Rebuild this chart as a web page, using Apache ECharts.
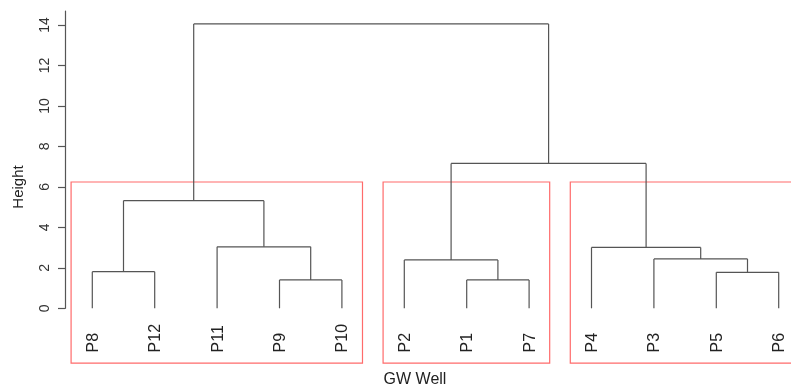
<!DOCTYPE html>
<html>
<head>
<meta charset="utf-8">
<script src="https://cdn.jsdelivr.net/npm/echarts@6/dist/echarts.min.js"></script>
<style>html,body{margin:0;padding:0;background:#fff;}#c{width:791px;height:389px;}</style>
</head>
<body>
<div id="c"></div>
<script>
// Leaf order (left to right)
const leaves = ['P8','P12','P11','P9','P10','P2','P1','P7','P4','P3','P5','P6'];
// Agglomeration steps: children are leaf names or 1-based step numbers
const mergeLeft   = ['P9','P1','P5','P8','P2','P3','P4','P11', 4, 5, 9];
const mergeRight  = ['P10','P7','P6','P12', 2, 3, 6, 1, 8, 7, 10];
const mergeHeight = [1.40, 1.40, 1.78, 1.81, 2.39, 2.44, 3.01, 3.04, 5.32, 7.16, 14.05];
// Three-cluster cut (rect.hclust, k = 3)
const clusterFirst = [1, 6, 9];
const clusterLast  = [5, 8, 12];
const cutHeight = (mergeHeight[9] + mergeHeight[8]) / 2;
const yTicks = [0, 2, 4, 6, 8, 10, 12, 14];

const FONT = 'Liberation Sans, Arial, Helvetica, sans-serif';
const plotBottom = -2.71;   // bottom of the plotting region (data units)
const labelStart = -2.18;   // where leaf labels begin (data units)

// compute node positions
function leafX(name){ return leaves.indexOf(name) + 1; }
const nodeX = [], nodeH = [];
function childPos(c){
  if (typeof c === 'string') return [leafX(c), 0];
  return [nodeX[c-1], nodeH[c-1]];
}
const segs = [];
for (let i = 0; i < mergeHeight.length; i++){
  const L = childPos(mergeLeft[i]), R = childPos(mergeRight[i]);
  const h = mergeHeight[i];
  nodeX[i] = (L[0] + R[0]) / 2; nodeH[i] = h;
  segs.push([L[0], L[1], L[0], h]);
  segs.push([L[0], h, R[0], h]);
  segs.push([R[0], h, R[0], R[1]]);
}
const rects = clusterFirst.map((f, i) => [f - 1 + 0.66, clusterLast[i] + 0.33, cutHeight]);
const leafData = leaves.map((n, i) => [i + 1, n]);

const chart = echarts.init(document.getElementById('c'), null, {renderer: 'canvas'});
chart.setOption({
  animation: false,
  backgroundColor: '#ffffff',
  grid: {left: 65, top: 11, right: 0, height: 297.3, containLabel: false, outerBoundsMode: 'none'},
  xAxis: {type: 'value', min: 0.5625, max: 0.5625 + 726 / 62.4, show: false},
  yAxis: {
    type: 'value', min: 0, max: 14.69,
    axisLine: {show: true, lineStyle: {color: '#555', width: 1.2}},
    axisTick: {show: true, length: 7, lineStyle: {color: '#555', width: 1.2}, customValues: yTicks},
    axisLabel: {show: true, rotate: 90, fontSize: 14, color: '#333', fontFamily: FONT, margin: 13, customValues: yTicks},
    splitLine: {show: false}
  },
  graphic: [
    {type: 'text', x: 18.5, y: 187, rotation: Math.PI/2,
     style: {text: 'Height', fontSize: 15, fontFamily: FONT, fill: '#222', align: 'center', verticalAlign: 'middle'}},
    {type: 'text', x: 415, y: 380,
     style: {text: 'GW Well', fontSize: 16, fontFamily: FONT, fill: '#222', align: 'center', verticalAlign: 'middle'}}
  ],
  series: [
    {
      type: 'custom', clip: false, data: rects, z: 1,
      renderItem: function(params, api){
        const a = api.coord([api.value(0), api.value(2)]);
        const b = api.coord([api.value(1), plotBottom]);
        return {type: 'rect', shape: {x: a[0], y: a[1], width: b[0]-a[0], height: b[1]-a[1]},
                style: {fill: null, stroke: '#ff6b6b', lineWidth: 1.2}};
      }
    },
    {
      type: 'custom', clip: false, data: segs, z: 2,
      renderItem: function(params, api){
        const p = api.coord([api.value(0), api.value(1)]);
        const q = api.coord([api.value(2), api.value(3)]);
        return {type: 'line', shape: {x1: p[0], y1: p[1], x2: q[0], y2: q[1]},
                style: {stroke: '#555', lineWidth: 1.2}};
      }
    },
    {
      type: 'custom', clip: false, data: leafData, z: 3,
      renderItem: function(params, api){
        const p = api.coord([api.value(0), labelStart]);
        return {type: 'text', x: p[0] + 1, y: p[1], rotation: Math.PI/2,
                style: {text: leaves[params.dataIndex], fontSize: 16, fontFamily: FONT, fill: '#222',
                        align: 'left', verticalAlign: 'middle'}};
      }
    }
  ]
});
</script>
</body>
</html>
